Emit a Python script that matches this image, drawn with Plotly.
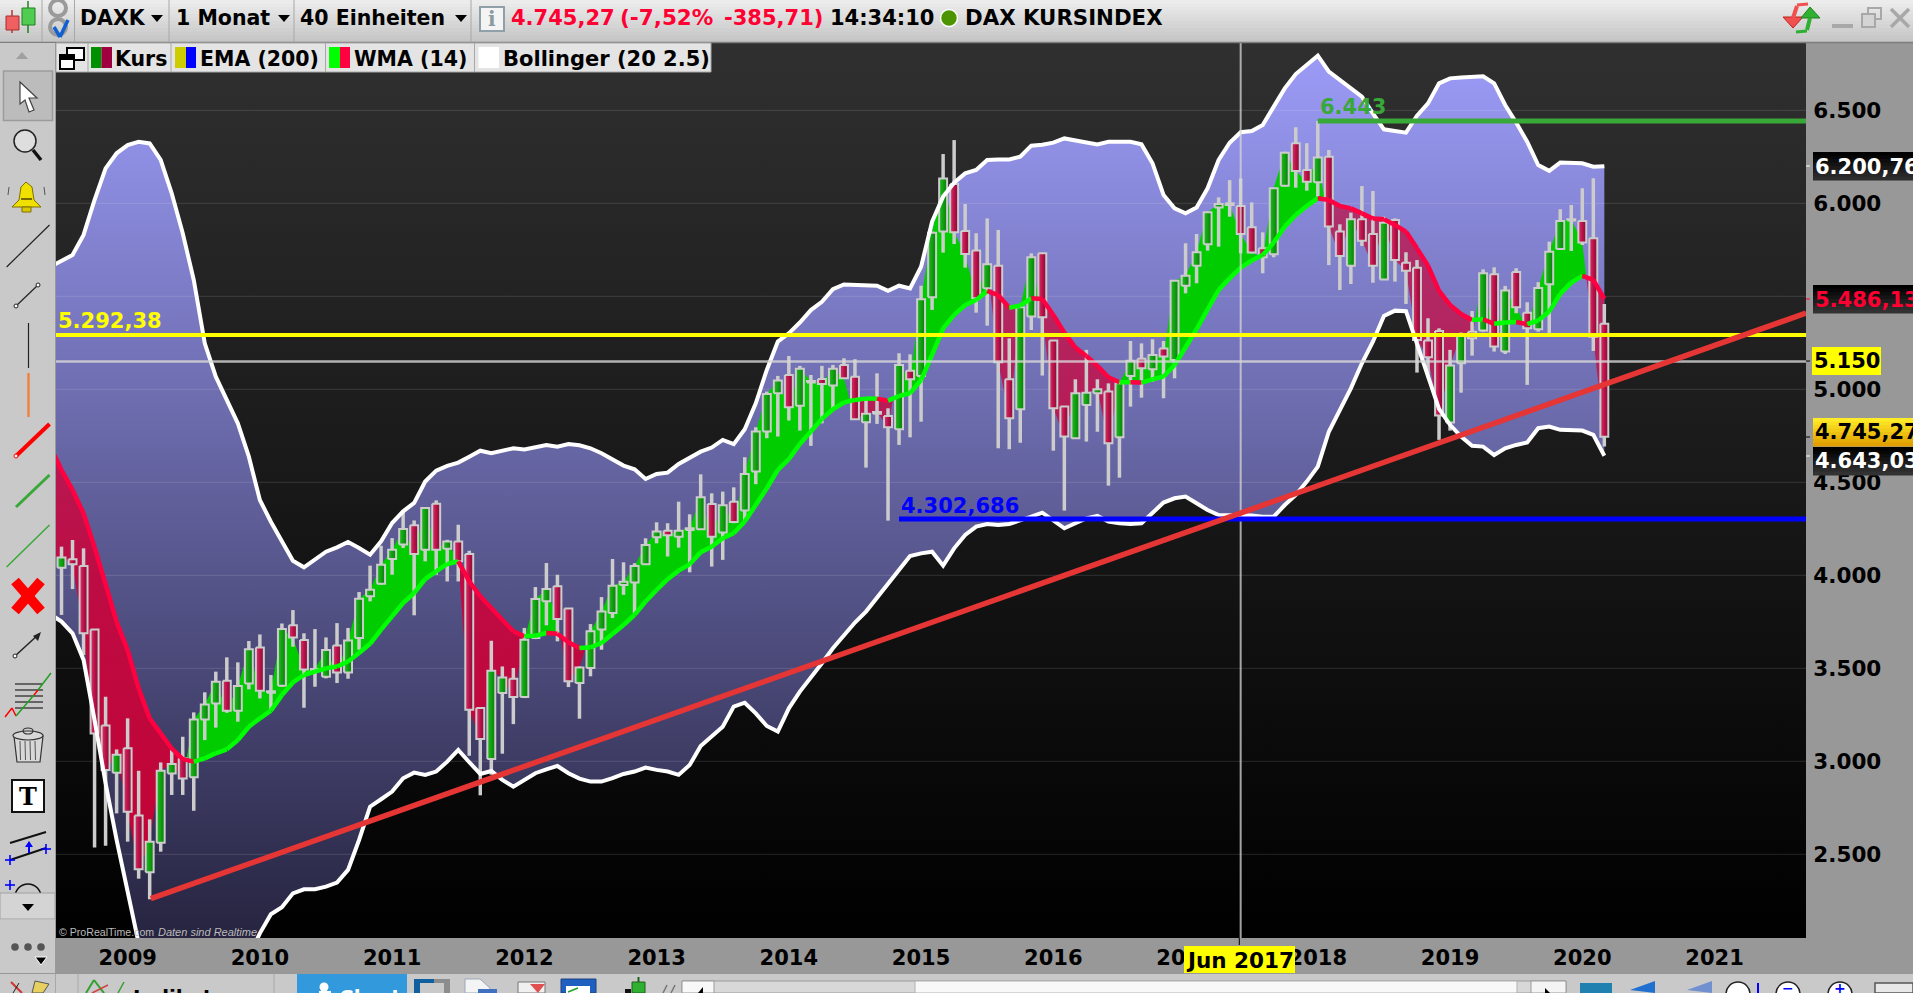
import plotly.graph_objects as go

# months counted from Jan 2009 = 0, first row is the one just off the left edge
first_month = -7

opens = [4140, 4041, 4086, 4050, 3709, 3193, 2939, 3070, 2709, 2403,
         2562, 2935, 3016, 2914, 3225, 3311, 3433, 3272, 3419, 3612,
         3369, 3406, 3731, 3652, 3487, 3455, 3623, 3478, 3663, 3887,
         3955, 4088, 4165, 4269, 4138, 4385, 4143, 4182, 4114, 3286,
         3012, 3367, 3444, 3346, 3663, 3860, 3941, 3821, 3421, 3502,
         3708, 3797, 3948, 3961, 4059, 4205, 4240, 4208, 4244, 4248,
         4384, 4230, 4396, 4348, 4558, 4773, 4979, 5077, 4912, 5036,
         5056, 5020, 5131, 5068, 4823, 4869, 4857, 4785, 5100, 5072,
         5495, 5848, 6104, 5851, 5746, 5543, 5665, 5054, 4893, 5391,
         5731, 5262, 4907, 4737, 4916, 4979, 4988, 4742, 5072, 5165,
         5108, 5220, 5158, 5557, 5665, 5780, 5978, 6000, 5986, 5871,
         5758, 5726, 6095, 6323, 6179, 6113, 6251, 5848, 5665, 5914,
         5835, 5591, 5910, 5681, 5654, 5262, 5314, 4821, 5140, 5310,
         5316, 5619, 5203, 5631, 5412, 5323, 5565, 5755, 5907, 5905,
         5812, 5352]
closes = [4100, 4096, 4059, 3688, 3150, 2953, 3035, 2729, 2419, 2568,
          2949, 2985, 2908, 3225, 3306, 3428, 3272, 3405, 3602, 3380,
          3376, 3711, 3666, 3494, 3496, 3598, 3478, 3650, 3874, 3923,
          4057, 4138, 4249, 4114, 4362, 4138, 4182, 4075, 3277, 3120,
          3487, 3451, 3346, 3654, 3872, 3926, 3765, 3430, 3505, 3699,
          3806, 3944, 3966, 4050, 4163, 4235, 4215, 4240, 4253, 4420,
          4208, 4377, 4287, 4545, 4773, 4975, 5047, 4904, 5110, 5045,
          5029, 5110, 5059, 4839, 4868, 4878, 4796, 5131, 5054, 5484,
          5842, 6134, 5844, 5728, 5489, 5672, 5145, 4844, 5441, 5710,
          5387, 4898, 4746, 4979, 4982, 5000, 4710, 5032, 5154, 5113,
          5185, 5176, 5584, 5611, 5737, 5952, 5996, 5991, 5835, 5735,
          5710, 6081, 6272, 6174, 6116, 6247, 5875, 5717, 5914, 5799,
          5665, 5896, 5695, 5638, 5265, 5172, 4859, 5128, 5292, 5275,
          5624, 5230, 5531, 5441, 5328, 5545, 5740, 5905, 5914, 5789,
          5283, 4745]
highs = [4250, 4154, 4190, 4145, 3709, 3347, 3064, 3231, 2949, 2688,
         2994, 3061, 3132, 3263, 3371, 3482, 3559, 3532, 3647, 3682,
         3464, 3741, 3813, 3688, 3711, 3666, 3743, 3717, 3910, 4052,
         4159, 4200, 4340, 4295, 4367, 4403, 4191, 4272, 4132, 3286,
         3648, 3510, 3502, 3717, 3937, 4066, 4003, 3824, 3510, 3738,
         3883, 4088, 4070, 4065, 4199, 4285, 4280, 4396, 4328, 4543,
         4441, 4450, 4473, 4635, 4796, 4988, 5072, 5179, 5126, 5077,
         5126, 5131, 5167, 5162, 4943, 5086, 4898, 5194, 5188, 5557,
         5848, 6265, 6340, 5996, 5839, 5919, 5857, 5274, 5444, 5731,
         5735, 5262, 4910, 5054, 5212, 5054, 5032, 5041, 5260, 5247,
         5269, 5260, 5588, 5785, 5835, 5955, 6032, 6125, 6134, 6005,
         5844, 6081, 6278, 6409, 6323, 6443, 6287, 5887, 5950, 6093,
         6066, 5928, 5919, 5737, 5695, 5382, 5328, 5212, 5305, 5421,
         5645, 5656, 5556, 5651, 5468, 5576, 5794, 5968, 5991, 6081,
         6135, 5459]
lows = [4000, 3787, 3926, 3571, 2536, 2546, 2720, 2568, 2369, 2258,
        2514, 2819, 2819, 2734, 3114, 3181, 3261, 3213, 3387, 3338,
        3276, 3401, 3616, 3288, 3401, 3446, 3421, 3444, 3600, 3860,
        3950, 4003, 4147, 3785, 4075, 4003, 3967, 3967, 3030, 2817,
        2928, 3041, 3200, 3340, 3657, 3731, 3645, 3399, 3229, 3457,
        3600, 3770, 3895, 3796, 4056, 4172, 4101, 4149, 4016, 4244,
        4047, 4083, 4280, 4289, 4490, 4737, 4746, 4832, 4778, 4696,
        4817, 4898, 5059, 4835, 4579, 4814, 4294, 4701, 4742, 4826,
        5427, 5735, 5781, 5654, 5412, 5342, 4683, 4678, 4713, 5319,
        5074, 4670, 4348, 4737, 4719, 4772, 4482, 4525, 4907, 4955,
        5041, 4952, 5059, 5516, 5570, 5746, 5767, 5928, 5731, 5731,
        5624, 5710, 6090, 6084, 6068, 6036, 5668, 5534, 5566, 5771,
        5573, 5591, 5579, 5459, 5090, 5068, 4728, 4778, 4982, 5181,
        5310, 5203, 5190, 5409, 5024, 5310, 5301, 5753, 5744, 5776,
        5206, 4692]
wma14 = [4690, 4566, 4459, 4333, 4150, 3952, 3750, 3598, 3392, 3231,
         3150, 3069, 3012, 2998, 3016, 3043, 3064, 3114, 3186, 3231,
         3272, 3356, 3424, 3464, 3482, 3500, 3510, 3537, 3582, 3632,
         3708, 3779, 3851, 3905, 3980, 4021, 4061, 4075, 3967, 3887,
         3824, 3761, 3699, 3672, 3675, 3690, 3686, 3640, 3609, 3613,
         3636, 3684, 3733, 3787, 3859, 3921, 3979, 4025, 4059, 4124,
         4154, 4199, 4226, 4289, 4378, 4468, 4567, 4624, 4706, 4773,
         4841, 4893, 4929, 4943, 4950, 4950, 4939, 4964, 4979, 5050,
         5185, 5328, 5400, 5453, 5480, 5529, 5507, 5439, 5450, 5489,
         5486, 5400, 5305, 5224, 5179, 5126, 5065, 5038, 5038, 5036,
         5054, 5068, 5131, 5226, 5323, 5430, 5534, 5597, 5654, 5692,
         5722, 5789, 5875, 5937, 5986, 6027, 6018, 5986, 5973, 5946,
         5918, 5914, 5884, 5848, 5758, 5665, 5529, 5454, 5405, 5373,
         5377, 5352, 5359, 5362, 5350, 5370, 5418, 5513, 5574, 5610,
         5588, 5486]
boll_upper = [5660, 5690, 5722, 5830, 6018, 6188, 6269, 6313, 6331, 6322,
              6233, 6054, 5839, 5588, 5247, 5068, 4943, 4817, 4638, 4405,
              4288, 4186, 4078, 4043, 4082, 4127, 4150, 4179, 4147, 4111,
              4183, 4281, 4344, 4389, 4504, 4563, 4588, 4606, 4638, 4670,
              4656, 4670, 4683, 4677, 4688, 4701, 4692, 4706, 4699, 4683,
              4656, 4620, 4590, 4570, 4518, 4545, 4552, 4599, 4635, 4665,
              4687, 4728, 4705, 4785, 4925, 5104, 5257, 5301, 5359, 5426,
              5471, 5538, 5564, 5561, 5561, 5557, 5530, 5557, 5543, 5659,
              5901, 6036, 6111, 6161, 6179, 6233, 6236, 6236, 6251, 6310,
              6315, 6326, 6349, 6337, 6326, 6317, 6331, 6331, 6331, 6317,
              6215, 6045, 5973, 5946, 5978, 6081, 6233, 6326, 6382, 6389,
              6421, 6520, 6618, 6695, 6744, 6794, 6708, 6663, 6624, 6573,
              6484, 6398, 6389, 6380, 6471, 6537, 6645, 6672, 6677, 6679,
              6683, 6645, 6529, 6434, 6331, 6206, 6175, 6219, 6219, 6215,
              6197, 6200]
boll_lower = [3790, 3751, 3688, 3545, 3222, 2882, 2577, 2308, 2022, 1800,
              1700, 1650, 1700, 1750, 1800, 1850, 1880, 1920, 1950, 2075,
              2178, 2215, 2290, 2312, 2312, 2326, 2348, 2416, 2577, 2756,
              2796, 2837, 2909, 2939, 2927, 2945, 2998, 3061, 2995, 2932,
              2948, 2900, 2864, 2900, 2936, 2957, 2975, 2936, 2907, 2891,
              2891, 2909, 2932, 2945, 2966, 2954, 2945, 2927, 2980, 3082,
              3136, 3186, 3294, 3315, 3258, 3190, 3160, 3285, 3375, 3447,
              3527, 3608, 3680, 3746, 3805, 3880, 3955, 4029, 4104, 4118,
              4127, 4052, 4145, 4217, 4262, 4276, 4271, 4276, 4294, 4315,
              4337, 4298, 4253, 4280, 4306, 4319, 4289, 4280, 4276, 4280,
              4333, 4391, 4414, 4423, 4387, 4351, 4324, 4324, 4321, 4321,
              4315, 4315, 4378, 4432, 4504, 4584, 4772, 4889, 5005, 5140,
              5256, 5394, 5423, 5420, 5250, 5068, 4895, 4809, 4746, 4696,
              4692, 4647, 4683, 4701, 4714, 4791, 4800, 4782, 4778, 4778,
              4755, 4643]

year_labels = ["2009", "2010", "2011", "2012", "2013", "2014", "2015",
               "2016", "2017", "2018", "2019", "2020", "2021"]
price_ticks = [2500, 3000, 3500, 4000, 4500, 5000, 5500, 6000, 6500]
price_labels = ["2.500", "3.000", "3.500", "4.000", "4.500", "5.000", "5.500", "6.000", "6.500"]

yellow_level = 5292.38
grey_level = 5150
green_level = 6443
blue_level = 4302.686
green_from = 108
blue_from = 70
trend_from = (2.1, 2262)
trend_to = (152.3, 5410)
cross_month = 101

x_min, x_max = -6.5, 152.3
y_min, y_max = 2050, 6862

FONT = "DejaVu Sans"
months = [first_month + n for n in range(len(closes))]

W, H = 1913, 993
L, R, T, B = 56, 1806, 43, 938


def X(px):
    return (px - L) / (R - L)


def Y(py):
    return (B - py) / (B - T)


shapes = []
notes = []


def rect(x0, y0, x1, y1, fill, line=None, w=0):
    shapes.append(dict(type="rect", xref="paper", yref="paper", x0=X(x0), x1=X(x1), y0=Y(y0), y1=Y(y1),
                       fillcolor=fill, line=dict(color=line or "rgba(0,0,0,0)", width=w)))


def grad(x0, y0, x1, y1, top, bottom, bands=8):
    # shapes have no gradients, so stack thin rects
    step = (y1 - y0) / bands
    for n in range(bands):
        t = n / (bands - 1)
        c = [round(a + (b - a) * t) for a, b in zip(top, bottom)]
        rect(x0, y0 + n * step, x1, y0 + (n + 1) * step + 0.5, "rgb(%d,%d,%d)" % tuple(c))


def seg(x0, y0, x1, y1, color, w=1):
    shapes.append(dict(type="line", xref="paper", yref="paper", x0=X(x0), x1=X(x1), y0=Y(y0), y1=Y(y1),
                       line=dict(color=color, width=w)))


def poly(pts, fill, line=None, w=0):
    path = "M " + " L ".join("%.5f %.5f" % (X(a), Y(b)) for a, b in pts) + " Z"
    shapes.append(dict(type="path", xref="paper", yref="paper", path=path, fillcolor=fill,
                       line=dict(color=line or "rgba(0,0,0,0)", width=w)))


def ell(x0, y0, x1, y1, fill, line=None, w=0):
    shapes.append(dict(type="circle", xref="paper", yref="paper", x0=X(x0), x1=X(x1), y0=Y(y0), y1=Y(y1),
                       fillcolor=fill, line=dict(color=line or "rgba(0,0,0,0)", width=w)))


def circ(cx, cy, r, fill, line=None, w=0):
    ell(cx - r, cy - r, cx + r, cy + r, fill, line, w)


def txt(px, py, text, size=21, color="black", anchor="left", weight=700, family=FONT, style="normal"):
    # annotations pad their text a little, pull left aligned ones back
    if anchor == "left":
        px -= 2.5
    notes.append(dict(xref="paper", yref="paper", x=X(px), y=Y(py), text=text, showarrow=False,
                      xanchor=anchor, yanchor="middle",
                      font=dict(family=family, size=size, color=color, weight=weight, style=style)))


fig = go.Figure()
skip = dict(hoverinfo="skip", showlegend=False)

# chart background
fig.add_trace(go.Scatter(x=[x_min, x_max, x_max, x_min], y=[y_min, y_min, y_max, y_max], mode="lines",
                         line=dict(width=0), fill="toself",
                         fillgradient=dict(type="vertical", start=y_min, stop=y_max,
                                           colorscale=[[0, "#000000"], [1, "#303030"]]), **skip))

# bollinger band
fig.add_trace(go.Scatter(x=months + months[::-1], y=boll_upper + boll_lower[::-1], mode="lines",
                         line=dict(width=0), fill="toself",
                         fillgradient=dict(type="vertical", start=y_min, stop=y_max,
                                           colorscale=[[0, "#26243f"], [1, "#9d9dfa"]]), **skip))

# grid sits on top of the fills here, the axis grid would be hidden behind them
grid_x, grid_y = [], []
for p in price_ticks:
    grid_x += [x_min, x_max, None]
    grid_y += [p, p, None]
fig.add_trace(go.Scatter(x=grid_x, y=grid_y, mode="lines", line=dict(color="rgba(255,255,255,0.13)", width=1), **skip))


# coloured zone between close and wma
def add_zone(xs, cl, wm, up):
    if len(xs) < 2:
        return
    if up:
        style = dict(fillcolor="#00cc00")
    else:
        style = dict(fillgradient=dict(type="vertical", start=y_min, stop=y_max,
                                       colorscale=[[0, "#c40030"], [0.4, "#bd0c44"], [1, "#a8407e"]]))
    fig.add_trace(go.Scatter(x=xs + xs[::-1], y=cl + wm[::-1], mode="lines", line=dict(width=0),
                             fill="toself", **style, **skip))


xs, cl, wm = [months[0]], [closes[0]], [wma14[0]]
for n in range(1, len(months)):
    d0 = closes[n - 1] - wma14[n - 1]
    d1 = closes[n] - wma14[n]
    if (d0 >= 0) != (d1 >= 0):
        t = d0 / (d0 - d1)
        cx = months[n - 1] + t
        cy = closes[n - 1] + t * (closes[n] - closes[n - 1])
        xs.append(cx); cl.append(cy); wm.append(cy)
        add_zone(xs, cl, wm, d0 >= 0)
        xs, cl, wm = [cx], [cy], [cy]
    xs.append(months[n]); cl.append(closes[n]); wm.append(wma14[n])
add_zone(xs, cl, wm, closes[-1] >= wma14[-1])

# candles, drawn as scatter because plotly always puts candlestick traces under scatter fills
wick_x, wick_y = [], []
for m, hi, lo in zip(months, highs, lows):
    wick_x += [m, m, None]
    wick_y += [hi, lo, None]
fig.add_trace(go.Scatter(x=wick_x, y=wick_y, mode="lines", line=dict(color="#cccccc", width=3.5), **skip))

half = 0.36
green_body = [[0, "#26bb26"], [0.5, "#10a010"], [1, "#0a7c0a"]]
red_body = [[0, "#d23a70"], [0.5, "#bd1048"], [1, "#7c1038"]]
for m, o, c in zip(months, opens, closes):
    fig.add_trace(go.Scatter(x=[m - half, m + half, m + half, m - half, m - half], y=[o, o, c, c, o], mode="lines",
                             line=dict(color="#cccccc", width=2), fill="toself",
                             fillgradient=dict(type="horizontal", start=m - half, stop=m + half,
                                               colorscale=green_body if c >= o else red_body), **skip))

# wma line, green while rising and red while falling
for n in range(1, len(months)):
    up = wma14[n] >= wma14[n - 1]
    fig.add_trace(go.Scatter(x=months[n - 1:n + 1], y=wma14[n - 1:n + 1], mode="lines",
                             line=dict(color="#00ff00" if up else "#ff0040", width=4.5), **skip))

fig.add_trace(go.Scatter(x=months, y=boll_upper, mode="lines", line=dict(color="white", width=4), **skip))
fig.add_trace(go.Scatter(x=months, y=boll_lower, mode="lines", line=dict(color="white", width=4), **skip))


def data_line(x0, y0, x1, y1, color, w):
    shapes.append(dict(type="line", xref="x", yref="y", x0=x0, x1=x1, y0=y0, y1=y1, line=dict(color=color, width=w)))


data_line(x_min, grey_level, x_max, grey_level, "rgba(215,215,215,0.8)", 2.5)
data_line(cross_month, y_min, cross_month, y_max, "rgba(215,215,215,0.75)", 2)
data_line(x_min, yellow_level, x_max, yellow_level, "#ffff00", 4)
data_line(green_from, green_level, x_max, green_level, "#38a838", 5)
data_line(blue_from, blue_level, x_max, blue_level, "#0000ff", 5)
data_line(trend_from[0], trend_from[1], trend_to[0], trend_to[1], "#e53535", 5.5)

txt(58, 321, "5.292,38", 21, "#ffff00")
txt(1320, 107, "6.443", 21, "#38a838")
txt(901, 506, "4.302,686", 21, "#0000ff")
txt(59, 932, "© ProRealTime.com", 10.6, "#bbbbbb", weight=400, family="Liberation Sans")
txt(158, 932, "Daten sind Realtime", 11, "#bbbbbb", weight=400, family="Liberation Sans", style="italic")

# price flags on the right axis
grad(1813, 152, 1913, 180, (0, 0, 0), (45, 45, 45))
txt(1815, 167, "6.200,76", 21, "white")
grad(1813, 285, 1913, 313, (0, 0, 0), (50, 50, 50))
txt(1815, 300, "5.486,13", 21, "#ff0033")
rect(1812, 347, 1881, 375, "#ffff00")
txt(1814, 361, "5.150", 21, "black")
grad(1813, 418, 1913, 446, (255, 235, 40), (225, 160, 0))
txt(1815, 432, "4.745,27", 21, "black")
grad(1813, 447, 1913, 475, (0, 0, 0), (50, 50, 50))
txt(1815, 461, "4.643,03", 21, "white")
seg(1806, 166, 1810, 166, "white", 1)
seg(1806, 299, 1810, 299, "#ff0033", 1)
seg(1806, 361, 1810, 361, "black", 1)
seg(1806, 437, 1810, 437, "black", 1)
seg(1806, 456, 1810, 456, "white", 1)

# crosshair date flag
seg(1239.3, 938, 1239.3, 945, "black", 1)
rect(1184, 946, 1295, 973, "#ffff00")
txt(1239.5, 961, "Jun 2017", 21.5, "black", "center")

# top toolbar
grad(0, 0, W, 42, (236, 236, 236), (198, 198, 198), 12)
seg(0, 42.5, W, 42.5, "#7e7e7e", 1.5)
for sx in [42, 74.5, 169, 294, 471]:
    seg(sx, 0, sx, 42, "#a8a8a8", 1)
seg(12, 10, 12, 33, "#c03030", 1.5)
rect(6, 16, 19, 30, "#f06060", "#a03030", 1)
seg(28, 1, 28, 33, "#208020", 1.5)
rect(22, 8, 35, 25, "#50cc50", "#208020", 1)
circ(58, 8, 8, "rgba(0,0,0,0)", "#9a9a9a", 4)
circ(58, 27, 8, "rgba(0,0,0,0)", "#9a9a9a", 4)
seg(54, 27, 60, 37, "#1060d0", 3.5)
seg(60, 37, 68, 20, "#1060d0", 3.5)
for name, x0, tri in [("DAXK", 80, 157), ("1 Monat", 176, 284), ("40 Einheiten", 300, 461)]:
    txt(x0, 18, name, 20.5)
    poly([(tri - 6, 15), (tri + 6, 15), (tri, 22)], "black")
rect(480, 7, 504, 31, "#f4f4f4", "#90a0a8", 2)
txt(492, 19, "i", 20, "#8a9aa2", "center", family="DejaVu Serif")
txt(511, 18, "4.745,27", 21, "#ff0033")
txt(620, 18, "(-7,52%", 21.5, "#ff0033")
txt(724, 18, "-385,71)", 21, "#ff0033")
txt(830, 18, "14:34:10", 21)
circ(949, 18, 8.5, "#4c9400", "white", 1.5)
txt(965, 18, "DAX KURSINDEX", 21.3)
# refresh arrows and window buttons
poly([(1783, 17), (1803, 17), (1793, 28)], "#f05050", "#c02020", 1)
seg(1793, 18, 1797, 6, "#f05050", 4)
seg(1797, 5, 1808, 4, "#f05050", 3)
poly([(1801, 18), (1820, 18), (1810, 7)], "#30b030", "#208020", 1)
seg(1810, 18, 1807, 30, "#30b030", 4)
seg(1807, 31, 1796, 32, "#30b030", 3)
rect(1832, 24, 1853, 28, "#a8a8a8")
rect(1868, 8, 1881, 19, "rgba(0,0,0,0)", "#a8a8a8", 2)
rect(1862, 14, 1875, 27, "#d4d4d4", "#a8a8a8", 2)
seg(1891, 9, 1909, 27, "#a8a8a8", 3.5)
seg(1909, 9, 1891, 27, "#a8a8a8", 3.5)

# legend strip
rect(56, 43, 711, 72, "#e4e4e4", "#a8a8a8", 1)
for sx in [88, 171, 325.5, 474.5]:
    seg(sx, 43, sx, 72, "#a8a8a8", 1)
rect(67, 48, 84, 60, "white", "black", 2)
rect(60, 55, 74, 69, "white", "black", 2)
rect(60, 55, 74, 60, "black")
rect(91, 47, 101.5, 68, "#009000")
rect(101.5, 47, 112, 68, "#a00040")
txt(115, 59, "Kurs", 20.5)
rect(175, 47, 186, 68, "#cccc00")
rect(186, 47, 196, 68, "#0000ff")
txt(200, 59, "EMA (200)", 20.5)
rect(329, 47, 340, 68, "#00ff00")
rect(340, 47, 350, 68, "#ff0040")
txt(354, 59, "WMA (14)", 20.5)
rect(478.5, 47, 499, 68, "white")
txt(503, 59, "Bollinger (20 2.5)", 21)

# left tool strip
rect(0, 43, 55.5, 973, "#c9c9c9")
seg(55.5, 43, 55.5, 973, "#9a9a9a", 1)
poly([(22, 52), (28, 59), (16, 59)], "#a0a0a0")
rect(3.5, 71, 52.5, 120.5, "#bcbcbc", "#9c9c9c", 1.5)
poly([(20, 82), (37, 98), (29, 98), (34, 110), (29, 112), (25, 100), (20, 104)], "white", "#444444", 1.2)
circ(25, 141, 11, "rgba(255,255,255,0.4)", "#222222", 1.5)
seg(33, 150, 41, 160, "#111111", 3.5)
poly([(26, 182), (32, 187), (34, 200), (41, 207), (12, 207), (19, 200), (21, 187)], "#f0e000", "#807000", 1)
rect(22, 207, 31, 212, "#d8c800", "#807000", 1)
seg(21, 199, 32, 199, "#504000", 1.5)
seg(9, 187, 8, 195, "#555555", 1)
seg(44, 187, 45, 195, "#555555", 1)
seg(6.6, 267, 49.5, 225, "#222222", 1.2)
seg(16, 306, 38, 285, "#222222", 1.2)
circ(16, 306, 2, "white", "#222222", 1)
circ(38, 285, 2, "white", "#222222", 1)
seg(28.5, 323, 28.5, 368, "#222222", 1.2)
seg(28.5, 373, 28.5, 417, "#f08040", 2.5)
seg(16, 456, 49.5, 424, "#ff0000", 4)
circ(16, 456, 2, "white", "#ff0000", 1)
seg(16, 507, 49.5, 475, "#38a838", 3)
seg(6.6, 567, 49.5, 525, "#38a838", 1.5)
seg(15, 581, 41, 611, "#ff0000", 10)
seg(41, 581, 15, 611, "#ff0000", 10)
seg(15, 656, 39, 634, "#222222", 1.5)
poly([(41, 632), (33, 636), (38, 641)], "#222222")
circ(15, 656, 2, "white", "#222222", 1)
for ly in [684, 690, 696, 702, 708]:
    seg(15, ly, 43, ly, "#222222", 1.2)
seg(5, 717, 12, 708, "#ff0000", 1.5)
seg(12, 708, 16, 716, "#ff0000", 1.5)
seg(16, 716, 34, 695, "#20a020", 1.5)
seg(34, 695, 38, 690, "#ff0000", 1.5)
seg(38, 690, 51, 673, "#20a020", 1.5)
# bin
poly([(14, 736), (43, 736), (40, 762), (17, 762)], "#d8d8d8", "#333333", 1.2)
for tx in [20, 25, 30, 35]:
    seg(tx, 741, tx + 0.5, 760, "#555555", 1)
ell(13, 731, 43, 740, "#d8d8d8", "#333333", 1.2)
ell(23, 728, 33, 734, "rgba(0,0,0,0)", "#333333", 1.2)
rect(12, 780, 44, 812, "white", "#111111", 2)
txt(28, 796, "T", 24, "black", "center", family="DejaVu Serif")
seg(10, 843, 46, 832, "#111111", 2)
seg(10, 860, 46, 848, "#111111", 2)
seg(29, 842, 29, 853, "#0000ff", 2)
poly([(29, 841), (25, 847), (33, 847)], "#0000ff")
for cx, cy in [(10, 860), (46, 849), (10, 885)]:
    seg(cx - 5, cy, cx + 5, cy, "#0000ff", 1.6)
    seg(cx, cy - 5, cx, cy + 5, "#0000ff", 1.6)
circ(28, 897, 13, "rgba(0,0,0,0)", "#111111", 1.6)
rect(0, 893, 55, 919, "#d4d4d4", "#a0a0a0", 1)
poly([(22, 904), (34, 904), (28, 911)], "black")
rect(0, 919.5, 55, 973, "#c9c9c9")
for cx in [15, 28, 41]:
    circ(cx, 947, 3.8, "#555555")
poly([(35, 957), (47, 957), (41, 965)], "black", "white", 1)

# bottom toolbar
rect(0, 974, W, H, "#c9c9c9")
seg(55.5, 974, 55.5, H, "#a8a8a8", 1)
seg(78, 974, 78, H, "#a8a8a8", 1)
seg(274, 974, 274, H, "#a8a8a8", 1)
seg(11, 982, 22, H, "#d03030", 2)
seg(13, H, 19, 983, "#222222", 1)
poly([(35, 981), (49, 984), (43, H), (32, H)], "#e8d060", "#555555", 1)
seg(86, H, 94, 980, "#30a030", 2)
seg(94, 980, 104, H, "#30a030", 2)
seg(92, H, 108, 985, "#d04040", 1.5)
seg(118, H, 124, 982, "#30a030", 1.5)
txt(133, 997, "Indikatoren", 20)
rect(297, 974, 407, H, "#3399dd")
circ(324, 987, 4.5, "white")
rect(319, 991, 331, H, "white")
txt(339, 997, "Chart", 20, "white")
rect(414, 979, 434, H, "#1060a0")
rect(420, 983, 434, H, "#c9c9c9")
rect(434, 979, 450, H, "#8c8c8c")
rect(434, 983, 444, H, "#c9c9c9")
poly([(465, 979), (480, 979), (490, 988), (490, H), (465, H)], "#f4f4f4", "#9aa8b8", 1)
rect(478, 989, 497, H, "#4070c0")
rect(518, 982, 545, H, "#f0f0f0", "#777777", 1)
poly([(530, 984), (545, 984), (538, H)], "#e05050")
rect(561, 979, 596, H, "#1f5fc0", "#204080", 1)
rect(566, 986, 590, H, "white")
seg(568, 992, 578, 988, "#20a020", 1.5)
rect(632, 982, 645, H, "#30b030", "#206020", 1)
seg(638.5, 977, 638.5, 982, "#206020", 2)
rect(625, 989, 631, H, "#111111")
seg(663, H, 667, 985, "#777777", 1.5)
seg(671, H, 675, 985, "#777777", 1.5)
rect(682, 981, 1566, H, "#d8d8d8", "#9a9a9a", 1)
rect(682, 981, 714, H, "#f8f8f8", "#9a9a9a", 1)
poly([(698, 993), (703, 987), (703, 993)], "black")
rect(915, 981, 1517, H, "#f8f8f8", "#b0b0b0", 1)
rect(1531, 981, 1566, H, "#f4f4f4", "#9a9a9a", 1)
poly([(1545, 988), (1550, 993), (1545, 993)], "black")
rect(1580, 983, 1612, H, "#2080b0")
poly([(1630, 990), (1655, 981), (1655, H)], "#2070d0")
poly([(1687, 990), (1712, 981), (1712, H)], "#7090d0")
for cx, sym in [(1738, ""), (1788, "−"), (1840, "+")]:
    circ(cx, 994, 12, "white", "#222222", 1.5)
    if sym:
        txt(cx, 988, sym, 14, "#0000ff", "center")
seg(1758, H, 1758, 983, "#0000ff", 2)
rect(1875, 983, 1913, H, "#e8e8e8", "#555555", 1.5)

fig.update_layout(
    width=W, height=H,
    margin=dict(l=L, r=W - R, t=T, b=H - B, pad=0),
    paper_bgcolor="#989898",
    plot_bgcolor="#000000",
    showlegend=False,
    shapes=shapes,
    annotations=notes,
    xaxis=dict(range=[x_min, x_max], showgrid=False, zeroline=False, showline=False,
               tickmode="array", tickvals=[12 * n for n in range(len(year_labels))], ticktext=year_labels,
               ticks="outside", ticklen=1, tickcolor="rgba(0,0,0,0)", automargin=False,
               tickfont=dict(family=FONT, size=21, color="black", weight=700)),
    yaxis=dict(range=[y_min, y_max], side="right", showgrid=False, zeroline=False, showline=False,
               tickmode="array", tickvals=price_ticks, ticktext=price_labels,
               ticks="outside", ticklen=2, tickcolor="rgba(0,0,0,0)", automargin=False,
               tickfont=dict(family=FONT, size=21.5, color="black", weight=700)),
)

fig.write_html("out.html", config={"displayModeBar": False},
               post_script="document.body.style.margin='0';document.body.style.overflow='hidden';")
